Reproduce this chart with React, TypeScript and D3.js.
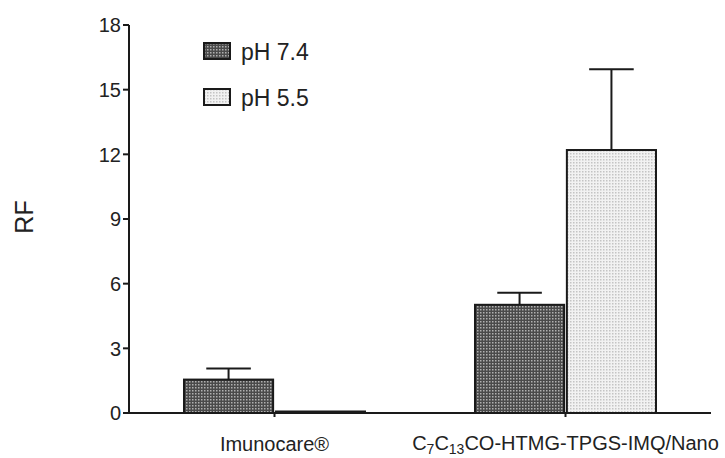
import React from "react";
import * as d3 from "d3";

const categories = ["Imunocare", "Nano"];
const seriesNames = ["pH 7.4", "pH 5.5"];
const ph74Values = [1.55, 5.02];
const ph74Errors = [0.52, 0.56];
const ph55Values = [0.07, 12.2];
const ph55Errors = [0, 3.75];
const yTicks = [0, 3, 6, 9, 12, 15, 18];

const W = 725;
const H = 458;
const FONT = "'Liberation Sans', Arial, Helvetica, sans-serif";

export default function App() {
  const x = d3.scaleBand<string>().domain(categories).range([129, 711]).paddingInner(0.378).paddingOuter(0.189);
  const xs = d3.scaleBand<string>().domain(seriesNames).range([0, x.bandwidth()]).paddingInner(0.03);
  const y = d3.scaleLinear().domain([0, 18]).range([413, 25]);
  const series = [
    { name: seriesNames[0], values: ph74Values, errors: ph74Errors, fill: "url(#patDark)" },
    { name: seriesNames[1], values: ph55Values, errors: ph55Errors, fill: "url(#patLight)" },
  ];
  const stroke = "#1a1a1a";
  return (
    <svg width={W} height={H} style={{ position: "absolute", left: 0, top: 0, background: "#fff" }}>
      <defs>
        <pattern id="patDark" width="3" height="3" patternUnits="userSpaceOnUse">
          <rect width="3" height="3" fill="#4a4a4a" />
          <rect width="1.5" height="1.5" fill="#b0b0b0" />
        </pattern>
        <pattern id="patLight" width="3" height="3" patternUnits="userSpaceOnUse">
          <rect width="3" height="3" fill="#f2f2f2" />
          <rect width="1.5" height="1.5" fill="#c4c4c4" />
        </pattern>
      </defs>
      {series.map((s) =>
        categories.map((c, i) => {
          const x0 = (x(c) ?? 0) + (xs(s.name) ?? 0);
          const bw = xs.bandwidth();
          const v = s.values[i];
          const e = s.errors[i];
          const cx = x0 + bw / 2;
          return (
            <g key={s.name + c}>
              <rect x={x0} y={y(v)} width={bw} height={y(0) - y(v)} fill={s.fill} stroke={stroke} strokeWidth={2} />
              {e > 0 && (
                <g stroke={stroke} strokeWidth={2}>
                  <line x1={cx} x2={cx} y1={y(v)} y2={y(v + e)} />
                  <line x1={cx - bw / 4} x2={cx + bw / 4} y1={y(v + e)} y2={y(v + e)} />
                </g>
              )}
            </g>
          );
        })
      )}
      {/* y axis */}
      <line x1={129} x2={129} y1={y(18)} y2={y(0)} stroke={stroke} strokeWidth={2} />
      {yTicks.map((t) => (
        <g key={t}>
          <line x1={123} x2={129} y1={y(t)} y2={y(t)} stroke={stroke} strokeWidth={2} />
          <text x={121} y={y(t)} dy="0.36em" textAnchor="end" fontFamily={FONT} fontSize={20} fill="#222">
            {t}
          </text>
        </g>
      ))}
      {/* x axis */}
      <line x1={128} x2={711} y1={y(0)} y2={y(0)} stroke={stroke} strokeWidth={2} />
      {categories.map((c) => {
        const cx = (x(c) ?? 0) + x.bandwidth() / 2;
        return <line key={c} x1={cx} x2={cx} y1={y(0)} y2={y(0) + 4} stroke={stroke} strokeWidth={2} />;
      })}
      <text x={(x(categories[0]) ?? 0) + x.bandwidth() / 2} y={451} textAnchor="middle" fontFamily={FONT} fontSize={20} fill="#222">
        Imunocare®
      </text>
      <text x={(x(categories[1]) ?? 0) + x.bandwidth() / 2} y={450} textAnchor="middle" fontFamily={FONT} fontSize={20} fill="#222">
        C<tspan fontSize={14} dy={4}>7</tspan>
        <tspan dy={-4}>C</tspan>
        <tspan fontSize={14} dy={4}>13</tspan>
        <tspan dy={-4}>CO-HTMG-TPGS-IMQ/Nano</tspan>
      </text>
      <text transform={`translate(33,${217}) rotate(-90)`} textAnchor="middle" fontFamily={FONT} fontSize={25} fill="#222">
        RF
      </text>
      {/* legend */}
      {series.map((s, i) => (
        <g key={s.name} transform={`translate(204,${43 + i * 46})`}>
          <rect x={0} y={0} width={26} height={16} fill={s.fill} stroke={stroke} strokeWidth={2} />
          <text x={37} y={17} fontFamily={FONT} fontSize={23} fill="#222">
            {s.name}
          </text>
        </g>
      ))}
    </svg>
  );
}
